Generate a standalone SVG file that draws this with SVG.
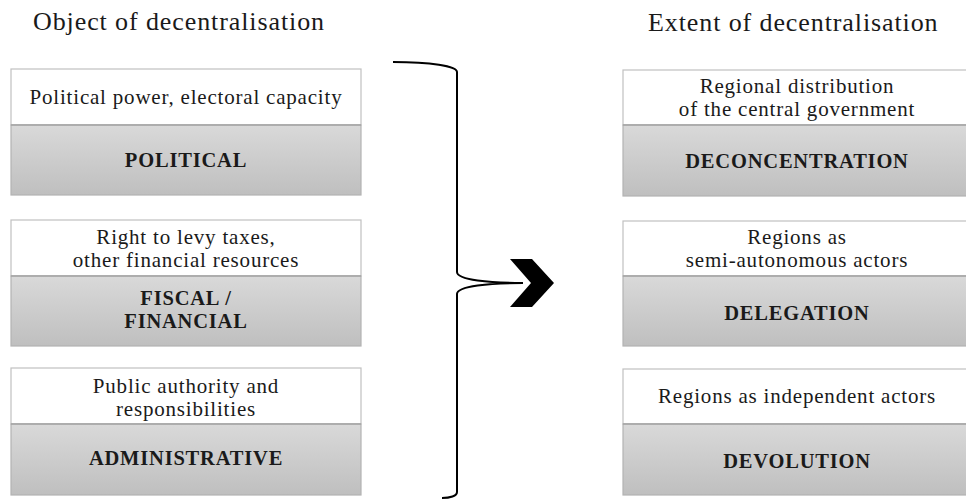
<svg xmlns="http://www.w3.org/2000/svg" width="966" height="499" viewBox="0 0 966 499">
<defs>
<linearGradient id="g" x1="0" y1="0" x2="0" y2="1">
<stop offset="0" stop-color="#d9d9d9"/>
<stop offset="1" stop-color="#bfbfbf"/>
</linearGradient>
</defs>
<style>
.w{fill:#ffffff;stroke:#c0c0c0;stroke-width:1.2}
.b{fill:url(#g);stroke:#b3b3b3;stroke-width:1.2}
.d{stroke:#a6a6a6;stroke-width:1.6}
.t{font-family:"Liberation Serif","Times New Roman",serif;font-size:21px;letter-spacing:0.8px;fill:#1a1a1a;text-anchor:middle}
.h{font-family:"Liberation Serif","Times New Roman",serif;font-size:26px;letter-spacing:0.9px;fill:#1a1a1a}
.k{font-family:"Liberation Serif","Times New Roman",serif;font-size:20.5px;letter-spacing:0.8px;font-weight:bold;fill:#1a1a1a;text-anchor:middle}
</style>
<rect width="966" height="499" fill="#ffffff"/>
<text class="h" x="33" y="30">Object of decentralisation</text>
<text class="h" x="648" y="31">Extent of decentralisation</text>

<g id="political">
<rect class="w" x="11" y="69" width="350" height="56"/>
<rect class="b" x="11" y="125" width="350" height="70"/>
<line class="d" x1="11" y1="125" x2="361" y2="125"/>
<text class="t" x="186" y="104">Political power, electoral capacity</text>
<text class="k" x="186" y="167">POLITICAL</text>
</g>
<g id="fiscal">
<rect class="w" x="11" y="220" width="350" height="56"/>
<rect class="b" x="11" y="276" width="350" height="70"/>
<line class="d" x1="11" y1="276" x2="361" y2="276"/>
<text class="t" x="186" y="244">Right to levy taxes,</text>
<text class="t" x="186" y="267">other financial resources</text>
<text class="k" x="186" y="305">FISCAL /</text>
<text class="k" x="186" y="328">FINANCIAL</text>
</g>
<g id="administrative">
<rect class="w" x="11" y="368" width="350" height="56"/>
<rect class="b" x="11" y="424" width="350" height="71"/>
<line class="d" x1="11" y1="424" x2="361" y2="424"/>
<text class="t" x="186" y="393">Public authority and</text>
<text class="t" x="186" y="416">responsibilities</text>
<text class="k" x="186" y="465">ADMINISTRATIVE</text>
</g>

<g id="deconcentration">
<rect class="w" x="623" y="70" width="350" height="55"/>
<rect class="b" x="623" y="125" width="350" height="71"/>
<line class="d" x1="623" y1="125" x2="973" y2="125"/>
<text class="t" x="797" y="93">Regional distribution</text>
<text class="t" x="797" y="116">of the central government</text>
<text class="k" x="797" y="168">DECONCENTRATION</text>
</g>
<g id="delegation">
<rect class="w" x="623" y="221" width="350" height="55"/>
<rect class="b" x="623" y="276" width="350" height="70"/>
<line class="d" x1="623" y1="276" x2="973" y2="276"/>
<text class="t" x="797" y="244">Regions as</text>
<text class="t" x="797" y="267">semi-autonomous actors</text>
<text class="k" x="797" y="320">DELEGATION</text>
</g>
<g id="devolution">
<rect class="w" x="623" y="369" width="350" height="55"/>
<rect class="b" x="623" y="424" width="350" height="71"/>
<line class="d" x1="623" y1="424" x2="973" y2="424"/>
<text class="t" x="797" y="403">Regions as independent actors</text>
<text class="k" x="797" y="468">DEVOLUTION</text>
</g>

<g id="connectors">
<path d="M393,62 C430,62 457,66 457,72 L457,272 C457,280 490,283 523,283 C490,283 457,286 457,294 L457,492 C457,496 450,498 442,498" fill="none" stroke="#000" stroke-width="2"/>
<polygon points="510,259 532,259 554,283 532,307 510,307 531,283" fill="#000"/>
</g>
</svg>
